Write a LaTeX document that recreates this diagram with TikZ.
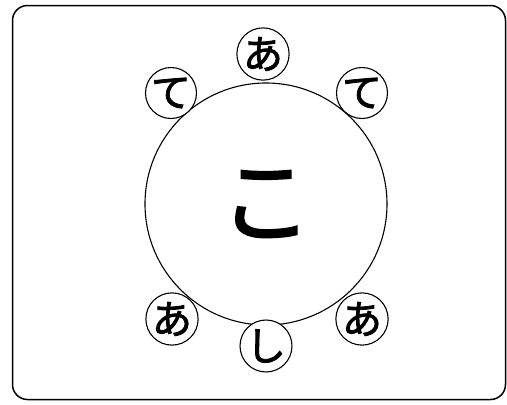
\documentclass[tikz,border=0pt]{standalone}
\usepackage{fontspec}
\newfontfamily\jpfont{Noto Sans CJK JP}[FakeBold=2]
\usetikzlibrary{positioning}
\tikzset{
  every picture/.style={line width=1.1pt, x=1pt, y=-1pt},
  frame/.style={draw, rounded corners=15pt, line width=1.5pt},
  tablec/.style={circle, draw, minimum size=242pt, inner sep=0pt, font=\jpfont\fontsize{92}{92}\selectfont},
  seat/.style={circle, draw, fill=white, minimum size=51pt, inner sep=0pt, font=\jpfont\fontsize{40}{40}\selectfont},
}
\begin{document}
\begin{tikzpicture}
  \useasboundingbox (0,0) rectangle (507,405);
  \draw[frame] (12.5,5.5) rectangle (505.5,399.5);
  % table in the middle
  \node[tablec] (tbl) at (266,204) {こ};
  % seats round the table
  \foreach \c/\x/\y [count=\k] in {あ/263/54, て/171/93, て/362/93, あ/172/319, し/266/346, あ/362/319}
    \node[seat] (s\k) at (\x,\y) {\c};
\end{tikzpicture}
\end{document}
